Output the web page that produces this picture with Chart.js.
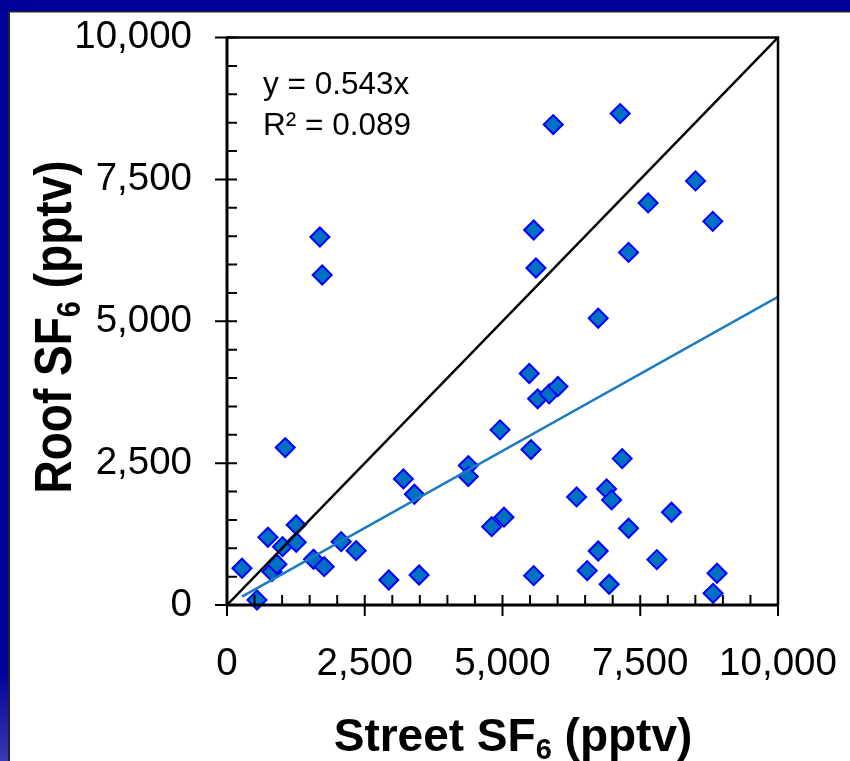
<!DOCTYPE html>
<html><head><meta charset="utf-8">
<script src="https://cdn.jsdelivr.net/npm/chart.js@4.4.1/dist/chart.umd.min.js"></script>
<style>html,body{margin:0;padding:0;background:#fff;overflow:hidden}canvas{display:block}</style>
</head><body>
<canvas id="c" width="850" height="761"></canvas>
<script>
// ---- data ----
const streetSF6 = [272, 544, 743, 1008, 816, 906, 1057, 1256, 1256, 1570, 1764, 2072, 2344, 2937, 3202, 3401, 3486,
  4380, 4380, 4804, 5027, 4955, 1686, 1728, 5921, 7136, 8503, 7643, 8816, 5566, 5607, 7288, 6737, 5486, 5638, 5848,
  6006, 5517, 7172, 6345, 6889, 6980, 8067, 7288, 6737, 7801, 6537, 5566, 6936, 8894, 8822];
const roofSF6 = [647, 88, 1194, 1028, 587, 718, 2774, 1411, 1106, 806, 675, 1116, 958, 441, 2222, 1952, 529,
  2457, 2263, 1381, 1547, 3086, 6485, 5815, 8466, 8660, 7473, 7085, 6760, 6608, 5938, 6213, 5053, 4079, 3633, 3721,
  3850, 2739, 2580, 1905, 2046, 1852, 1635, 1353, 952, 800, 605, 517, 365, 559, 206];
const tickValues = [0, 2500, 5000, 7500, 10000];
const tickLabels = ['0', '2,500', '5,000', '7,500', '10,000'];
const oneToOneX = [0, 10000];
const fitSlope = 0.543;
const fitR2 = 0.089;
const fitX = [Math.min(...streetSF6), 10000];
const eqLines = ['y = 0.543x', 'R\u00B2 = 0.089'];
const xTitleParts = ['Street SF', '6', ' (pptv)'];
const yTitleParts = ['Roof SF', '6', ' (pptv)'];

const FONT = "'Liberation Sans', Arial, Helvetica, sans-serif";

const framePlugin = {
  id: 'frame',
  beforeDraw(chart) {
    const ctx = chart.ctx, W = chart.width, H = chart.height;
    ctx.save();
    ctx.fillStyle = '#ffffff';
    ctx.fillRect(0, 0, W, H);
    const g = ctx.createLinearGradient(0, 0, 0, H);
    g.addColorStop(0, '#000099');
    g.addColorStop(0.88, '#000099');
    g.addColorStop(1, '#3a3ab0');
    ctx.fillStyle = g;
    ctx.fillRect(0, 0, 8, H);
    ctx.fillStyle = '#000099';
    ctx.fillRect(0, 0, W, 11);
    ctx.fillStyle = '#222233';
    ctx.fillRect(8, 11, 2, H - 11);
    ctx.fillRect(8, 11, W - 8, 1.5);
    ctx.restore();
  }
};

function drawSubTitle(ctx, parts, cx, baseY) {
  const big = "bold 46px " + FONT, small = "bold 29px " + FONT;
  ctx.font = big; const w0 = ctx.measureText(parts[0]).width;
  ctx.font = small; const w1 = ctx.measureText(parts[1]).width;
  ctx.font = big; const w2 = ctx.measureText(parts[2]).width;
  let x = cx - (w0 + w1 + w2) / 2;
  ctx.textBaseline = 'alphabetic';
  ctx.textAlign = 'left';
  ctx.font = big; ctx.fillText(parts[0], x, baseY); x += w0;
  ctx.font = small; ctx.fillText(parts[1], x, baseY + 8); x += w1;
  ctx.font = big; ctx.fillText(parts[2], x, baseY);
}

const decorPlugin = {
  id: 'decor',
  afterDatasetsDraw(chart) {
    const ctx = chart.ctx, a = chart.chartArea;
    const xs = chart.scales.x, ys = chart.scales.y;
    ctx.save();
    ctx.strokeStyle = '#000';
    ctx.lineCap = 'butt';
    // box
    ctx.lineWidth = 2.5;
    ctx.beginPath();
    ctx.moveTo(a.left, a.top); ctx.lineTo(a.right, a.top); ctx.lineTo(a.right, a.bottom);
    ctx.stroke();
    ctx.lineWidth = 3;
    ctx.beginPath();
    ctx.moveTo(a.left, a.top - 1); ctx.lineTo(a.left, a.bottom); ctx.lineTo(a.right + 1, a.bottom);
    ctx.stroke();
    // ticks
    ctx.lineWidth = 2;
    for (let v = 0; v <= 10000; v += 500) {
      const major = v % 2500 === 0;
      const px = xs.getPixelForValue(v);
      const py = ys.getPixelForValue(v);
      ctx.beginPath();
      ctx.moveTo(px, a.bottom - 10); ctx.lineTo(px, a.bottom + (major ? 11 : 0));
      ctx.moveTo(a.left + 10, py); ctx.lineTo(a.left - (major ? 12 : 0), py);
      ctx.stroke();
    }
    // equation
    ctx.fillStyle = '#000';
    ctx.font = "31.5px " + FONT;
    ctx.textAlign = 'left';
    ctx.textBaseline = 'alphabetic';
    ctx.fillText(eqLines[0], a.left + 36, a.top + 56);
    ctx.fillText(eqLines[1], a.left + 36, a.top + 97);
    // axis titles
    drawSubTitle(ctx, xTitleParts, 513, 751);
    ctx.translate(71, 327);
    ctx.rotate(-Math.PI / 2);
    ctx.scale(1, 1.12);
    drawSubTitle(ctx, yTitleParts, 0, 0);
    ctx.restore();
  }
};

const tickFont = { family: FONT, size: 38.5 };
function zeroPad(s) { s.paddingTop = 0; s.paddingBottom = 0; s.paddingLeft = 0; s.paddingRight = 0; }

new Chart(document.getElementById('c'), {
  type: 'scatter',
  data: {
    datasets: [
      {
        label: '1:1',
        data: oneToOneX.map(x => ({ x: x, y: x })),
        showLine: true, borderColor: '#000000', borderWidth: 2.5, pointRadius: 0, fill: false
      },
      {
        label: 'fit',
        data: fitX.map(x => ({ x: x, y: fitSlope * x })),
        showLine: true, borderColor: '#1B7CC2', borderWidth: 2.5, pointRadius: 0, fill: false
      },
      {
        label: 'SF6',
        data: streetSF6.map((x, i) => ({ x: x, y: roofSF6[i] })),
        pointStyle: 'rectRot', pointRadius: 9.5, pointHoverRadius: 9.5,
        backgroundColor: '#0070C0', borderColor: '#0000FF', borderWidth: 2,
        clip: false
      }
    ]
  },
  options: {
    responsive: false,
    animation: false,
    devicePixelRatio: 1,
    layout: { padding: { left: 0, top: 37.5, right: 72, bottom: 0 } },
    plugins: { legend: { display: false }, tooltip: { enabled: false } },
    scales: {
      x: {
        type: 'linear', min: 0, max: 10000,
        afterFit(s) { s.height = 156; zeroPad(s); },
        afterBuildTicks(s) { s.ticks = tickValues.map(v => ({ value: v })); },
        ticks: { font: tickFont, color: '#000', padding: 36, maxRotation: 0, autoSkip: false,
          callback: (v) => tickLabels[tickValues.indexOf(v)] },
        grid: { display: false, drawTicks: false },
        border: { display: false }
      },
      y: {
        type: 'linear', min: 0, max: 10000,
        afterFit(s) { s.width = 227; zeroPad(s); },
        afterBuildTicks(s) { s.ticks = tickValues.map(v => ({ value: v })); },
        ticks: { font: tickFont, color: '#000', padding: 35, autoSkip: false,
          callback: (v) => tickLabels[tickValues.indexOf(v)] },
        grid: { display: false, drawTicks: false },
        border: { display: false }
      }
    }
  },
  plugins: [framePlugin, decorPlugin]
});
</script>
</body></html>
